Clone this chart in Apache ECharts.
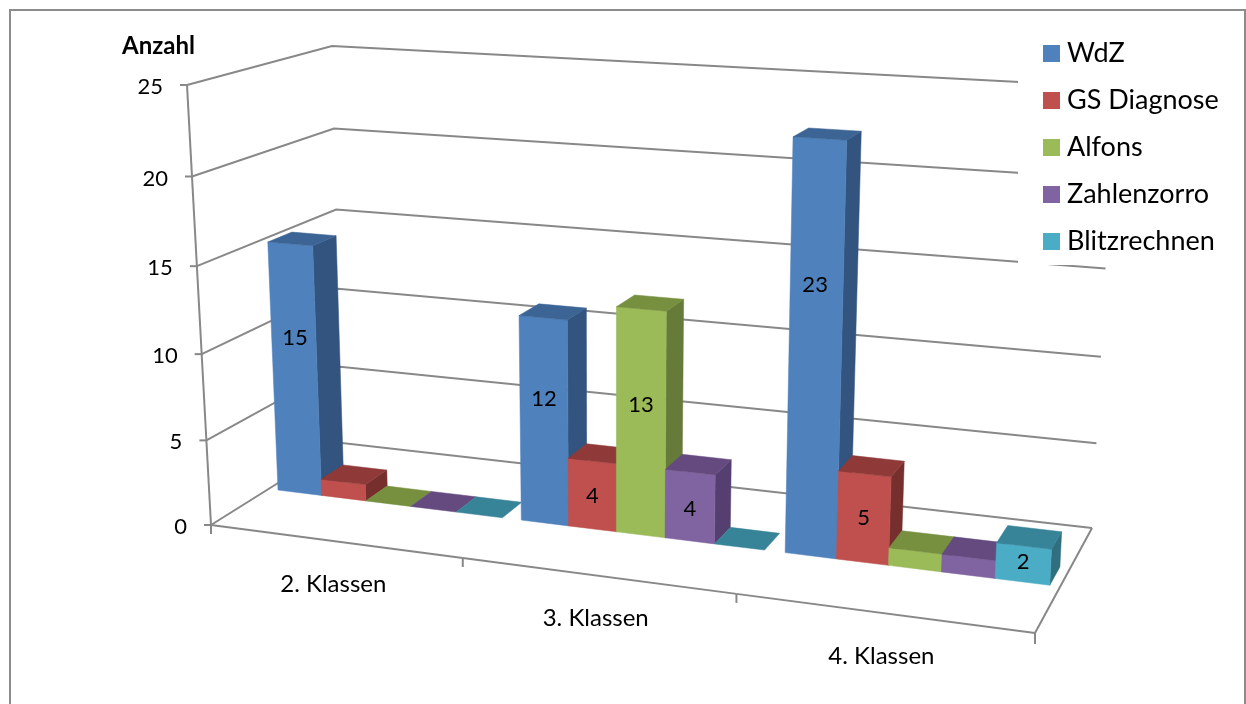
<!DOCTYPE html>
<html lang="de">
<head>
<meta charset="utf-8">
<title>Anzahl je Klassenstufe</title>
<style>html,body{margin:0;padding:0;background:#fff}#chart{width:1246px;height:704px}</style>
<script src="https://cdn.jsdelivr.net/npm/echarts@6/dist/echarts.min.js"></script>
</head>
<body>
<div id="chart"></div>
<script>
// Values per class level
const classes = ['2. Klassen', '3. Klassen', '4. Klassen'];
const seriesNames = ['WdZ', 'GS Diagnose', 'Alfons', 'Zahlenzorro', 'Blitzrechnen'];
const wdz = [15, 12, 23];
const gsDiagnose = [1, 4, 5];
const alfons = [0, 13, 1];
const zahlenzorro = [0, 4, 1];
const blitzrechnen = [0, 0, 2];
const valueTicks = [0, 5, 10, 15, 20, 25];

// Face colours per series
const frontColors = ['#4F81BD', '#C0504D', '#9BBB59', '#8064A2', '#4BACC6'];
const topColors = ['#3C6494', '#8F3A38', '#769040', '#644A7F', '#378398'];
const sideColors = ['#32547F', '#772F2D', '#667B3A', '#553F70', '#2F6F80'];

const AXIS_COLOR = '#888888';
const TEXT_COLOR = '#000000';
const FONT = 'Lato';

// Hidden plane that supplies the category and value scales
const GRID = { left: 100, top: 50, width: 900, height: 500 };

// Corners of the 3D box in screen space: [x, y, homogeneous weight]; u runs along
// the categories, v into the depth, w up the value axis.
const TOP_SHRINK = 1 / 1.05;
const BOX = {
  u0v0w0: [211, 525, 1 / 440], u1v0w0: [1035, 633, 1 / 500],
  u0v1w0: [342, 443, 1 / 397], u1v1w0: [1092, 528, 1 / 447],
  u0v0w1: [187, 85, TOP_SHRINK / 440], u1v0w1: [1057.5, 138, TOP_SHRINK / 500],
  u0v1w1: [332, 46, TOP_SHRINK / 397], u1v1w1: [1115, 87, TOP_SHRINK / 447]
};
const BAR_DEPTH = [0.415, 0.59];
const BAND_MARGIN = 0.04;
const BAR_SHARE = 0.185;
const LABEL_NUDGE = [6, -3, -1, -4, 2];

function project(u, v, w) {
  let x = 0, y = 0, d = 0;
  for (const cu of [0, 1]) for (const cv of [0, 1]) for (const cw of [0, 1]) {
    const c = BOX['u' + cu + 'v' + cv + 'w' + cw];
    const k = (cu ? u : 1 - u) * (cv ? v : 1 - v) * (cw ? w : 1 - w) * c[2];
    x += k * c[0]; y += k * c[1]; d += k;
  }
  return [x / d, y / d];
}

// Reads the library's scales and converts them to box coordinates
function uOf(api, cat, frac) {
  const band = api.size([1, 0])[0];
  const left = api.coord([cat, 0])[0] - band / 2;
  return (left + frac * band - GRID.left) / GRID.width;
}
function wOf(api, val) {
  return (GRID.top + GRID.height - api.coord([0, val])[1]) / GRID.height;
}

function poly(points, fill) {
  return { type: 'polygon', shape: { points }, style: { fill, stroke: fill, lineWidth: 0.5 } };
}
function stroke(points) {
  return { type: 'polyline', shape: { points }, style: { fill: 'none', stroke: AXIS_COLOR, lineWidth: 2 } };
}
function label(text, x, y, size, align) {
  return { type: 'text', style: { text: String(text), x, y, fill: TEXT_COLOR, font: size + 'px ' + FONT, align: align || 'center', verticalAlign: 'middle' } };
}

function barItem(si) {
  return function (params, api) {
    const cat = api.value(0), val = api.value(1);
    const a = BAND_MARGIN + si * BAR_SHARE;
    const u1 = uOf(api, cat, a), u2 = uOf(api, cat, a + BAR_SHARE);
    const [v1, v2] = BAR_DEPTH;
    const w = wOf(api, val);
    const children = [];
    if (val > 0) {
      children.push(poly([project(u2, v1, 0), project(u2, v2, 0), project(u2, v2, w), project(u2, v1, w)], sideColors[si]));
      children.push(poly([project(u1, v1, 0), project(u2, v1, 0), project(u2, v1, w), project(u1, v1, w)], frontColors[si]));
    }
    children.push(poly([project(u1, v1, w), project(u2, v1, w), project(u2, v2, w), project(u1, v2, w)], topColors[si]));
    children.forEach(c => { c.z2 = cat * 10 + si; });
    return { type: 'group', children };
  };
}

// Value labels sit on the front face, a little above its middle on tall bars
function valueLabelItem(si) {
  return function (params, api) {
    const cat = api.value(0), val = api.value(1);
    if (val < 2) return null;
    const a = BAND_MARGIN + si * BAR_SHARE;
    const uMid = uOf(api, cat, a + BAR_SHARE / 2);
    const p = project(uMid, BAR_DEPTH[0], wOf(api, val) / 2);
    return label(val, p[0], p[1] - 0.115 * val * val - LABEL_NUDGE[si], 22);
  };
}

function wallItem(params, api) {
  const tick = api.value(1);
  const w = wOf(api, tick);
  const a = project(0, 0, w), b = project(0, 1, w), c = project(1, 1, w);
  return {
    type: 'group',
    children: [
      stroke([a, b, c]),
      stroke([[a[0] - 7, a[1]], a]),
      label(tick, a[0] - 24, a[1] + 2, 22, 'right')
    ]
  };
}

function floorItem(params, api) {
  const cat = api.value(0);
  const uL = uOf(api, cat, 0), uR = uOf(api, cat, 1), uMid = uOf(api, cat, 0.5);
  const mid = project(uMid, 0, 0);
  const tickAt = project(uL, 0, 0);
  const children = [
    stroke([project(uL, 0, 0), project(uR, 0, 0)]),
    stroke([tickAt, [tickAt[0], tickAt[1] + 9]]),
    label(classes[cat], mid[0] - 1, mid[1] + 43, 24)
  ];
  if (cat === classes.length - 1) {
    const end = project(uR, 0, 0);
    children.push(stroke([end, [end[0], end[1] + 11]]));
    children.push(stroke([end, project(uR, 1, 0)]));
  }
  return { type: 'group', children };
}

function yAxisItem(params, api) {
  return stroke([project(0, 0, wOf(api, 0)), project(0, 0, wOf(api, 25))]);
}

const seriesValues = [wdz, gsDiagnose, alfons, zahlenzorro, blitzrechnen];

const series = [
  { type: 'custom', name: 'Wände', z: 1, silent: true, encode: { x: 0, y: 1 },
    data: valueTicks.map(t => [0, t]), renderItem: wallItem },
  { type: 'custom', name: 'Boden', z: 1, silent: true, encode: { x: 0, y: 1 },
    data: classes.map((c, i) => [i, 0]), renderItem: floorItem },
  { type: 'custom', name: 'Achse', z: 1, silent: true, encode: { x: 0, y: 1 },
    data: [[0, 0]], renderItem: yAxisItem }
];
seriesNames.forEach((name, si) => {
  series.push({
    type: 'custom', name, z: 2, encode: { x: 0, y: 1 },
    itemStyle: { color: frontColors[si] },
    data: seriesValues[si].map((v, i) => [i, v]),
    renderItem: barItem(si)
  });
});
seriesNames.forEach((name, si) => {
  series.push({
    type: 'custom', name: name + ' Werte', z: 3, silent: true, encode: { x: 0, y: 1 },
    data: seriesValues[si].map((v, i) => [i, v]),
    renderItem: valueLabelItem(si)
  });
});

const chart = echarts.init(document.getElementById('chart'), null, { renderer: 'canvas' });
chart.setOption({
  animation: false,
  backgroundColor: '#ffffff',
  title: {
    text: 'Anzahl', left: 122, top: 34, padding: 0,
    textStyle: { fontFamily: FONT, fontWeight: 'bold', fontSize: 24, color: TEXT_COLOR }
  },
  grid: GRID,
  xAxis: { type: 'category', data: classes, show: false },
  yAxis: { type: 'value', min: 0, max: 25, interval: 5, show: false },
  legend: {
    data: seriesNames, orient: 'vertical', left: 1018, top: 28,
    padding: [12, 5, 10, 25], backgroundColor: '#ffffff',
    icon: 'rect', itemWidth: 17, itemHeight: 17, itemGap: 20,
    selectedMode: false,
    textStyle: { fontFamily: FONT, fontSize: 27, color: TEXT_COLOR, padding: [3, 0, 0, 2] }
  },
  graphic: [{
    type: 'rect', silent: true, z: 10,
    shape: { x: 10, y: 10, width: 1235, height: 720 },
    style: { fill: 'none', stroke: '#8c8c8c', lineWidth: 2 }
  }],
  series
});
</script>
</body>
</html>
